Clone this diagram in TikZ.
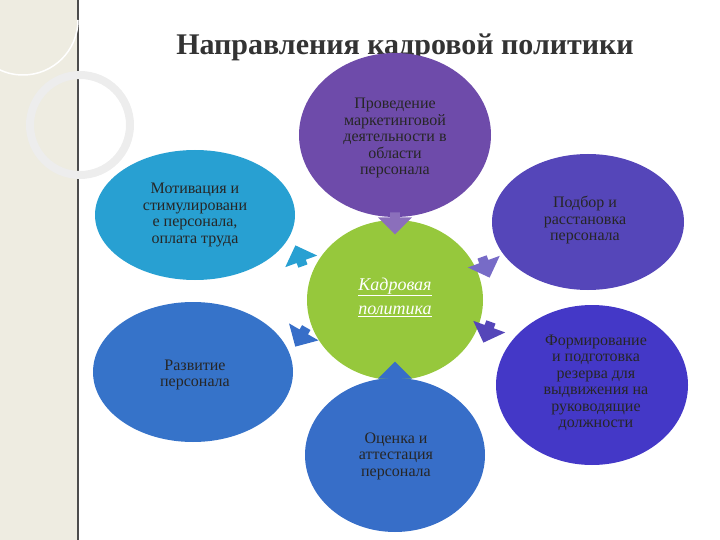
\documentclass[tikz,border=0pt]{standalone}
\usepackage{fontspec}
\setmainfont{Liberation Serif}
\usetikzlibrary{shapes.arrows}
\definecolor{beige}{RGB}{238,236,225}
\definecolor{cblue}{RGB}{40,160,210}
\definecolor{cpurple}{RGB}{110,75,170}
\definecolor{cviolet}{RGB}{85,70,185}
\definecolor{cmid}{RGB}{55,110,200}
\definecolor{cgreen}{RGB}{150,200,60}
\begin{document}
\begin{tikzpicture}[x=1pt,y=-1pt,
  bub/.style={align=center,text=black!85,font=\fontsize{16}{16.5}\selectfont,inner sep=0pt},
  arr/.style={single arrow,minimum height=22pt,minimum width=34pt,single arrow head extend=8pt,inner sep=3pt}]
\useasboundingbox (0,0) rectangle (720,540);
\fill[beige] (0,0) rectangle (78,540);
\draw[black!70,line width=1.2pt] (78,0) -- (78,540);
\draw[white,line width=1.5pt] (78,20) arc[start angle=0,end angle=200,radius=55] ;
\draw[black!7,line width=8pt] (80,125) circle[radius=50];
\node (title) at (405,47) {\fontsize{30}{32}\selectfont\bfseries\color{black!80} Направления кадровой политики};
\fill[cpurple] (395,135) ellipse[x radius=96,y radius=82];
\node (a) at (395,138) [bub] {Проведение\\маркетинговой\\деятельности в\\области\\персонала};
\fill[cblue] (195,215) ellipse[x radius=100,y radius=65];
\node (b) at (195,215) [bub] {Мотивация и\\стимулировани\\е персонала,\\оплата труда};
\fill[cviolet] (588,222) ellipse[x radius=96,y radius=68];
\node (c) at (585,220) [bub] {Подбор и\\расстановка\\персонала};
\fill[cgreen] (395,300) ellipse[x radius=88,y radius=80];
\node (k) at (395,297) [align=center,text=white,font=\fontsize{18}{24}\selectfont\itshape] {\underline{Кадровая}\\\underline{политика}};
\fill[cmid!90!cblue] (193,372) ellipse[x radius=100,y radius=70];
\node (d) at (195,375) [bub] {Развитие\\персонала};
\fill[cmid] (395,455) ellipse[x radius=90,y radius=77];
\node (e) at (396,456) [bub] {Оценка и\\аттестация\\персонала};
\fill[cviolet!80!blue] (592,385) ellipse[x radius=96,y radius=80];
\node (f) at (596,383) [bub] {Формирование\\и подготовка\\резерва для\\выдвижения на\\руководящие\\должности};
\node (r1) [arr,fill=cpurple!80,rotate=-90] at (395,221) {};
\node (r2) [arr,fill=cmid,rotate=90] at (395,375) {};
\node (r3) [arr,fill=cblue,rotate=110] at (300,258) {};
\node (r4) [arr,fill=cmid,rotate=240] at (302,335) {};
\node (r5) [arr,fill=cviolet!80,rotate=-70] at (485,265) {};
\node (r6) [arr,fill=cviolet,rotate=-110] at (488,330) {};
\end{tikzpicture}
\end{document}
